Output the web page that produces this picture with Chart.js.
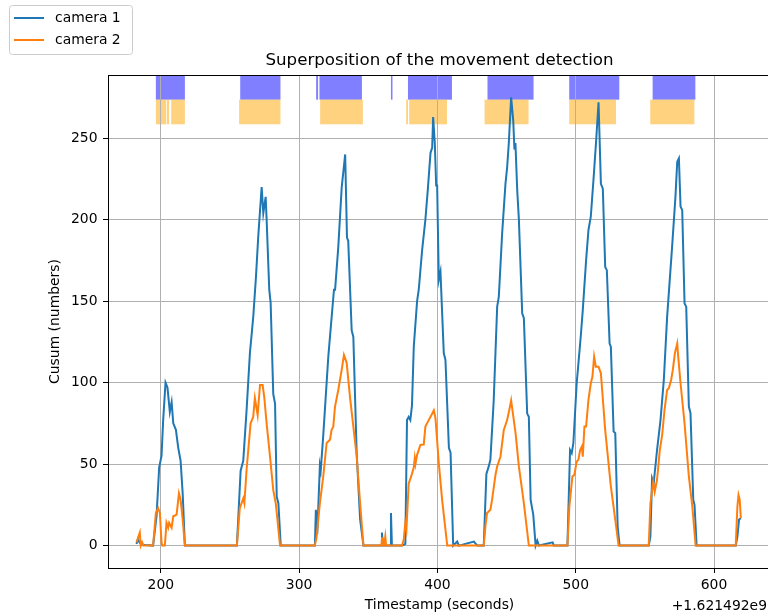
<!DOCTYPE html>
<html>
<head>
<meta charset="utf-8">
<script src="https://cdn.jsdelivr.net/npm/chart.js@4.4.0/dist/chart.umd.min.js"></script>
<style>
  html, body { margin: 0; padding: 0; background: #fff; overflow: hidden; }
  #wrap { width: 771px; height: 616px; }
</style>
</head>
<body>
<div id="wrap"><canvas id="cusumChart" width="771" height="616"></canvas></div>
<script>
// timestamps are seconds minus 1.621492e9
const camera1Time = [182.4, 183.5, 184.5, 185.5, 187, 189, 194.4, 196.9, 198.8, 200.5, 201.7, 203.4, 204.8, 206.5, 207.8, 209, 210.9, 212.6, 214.3, 215.8, 217.4,
  255, 257.7, 259.6, 262, 264.4, 266.8, 268.8, 270.4, 272.9, 274.1, 275.8, 276.5, 278.4, 279.4, 281.3, 282.6, 283.8, 285, 286.7,
  311.4, 312.1, 313.1, 315, 315.6, 317.4, 321.1, 323.5, 325.2, 326, 328.3, 330.8, 333.3, 334.6, 335.5, 338, 339.2, 341.6, 344.1, 346.5,
  359.4, 359.9, 360.5, 365.8, 366.4, 367.1,
  374.4, 376.8, 378, 379.2, 380.4, 381.6, 382.9, 385.3, 386.5, 388.9, 391.3, 393, 395, 396.2, 396.9, 398.1, 399.1, 399.8, 401, 402.2, 404.6, 405.8, 408.3, 409.5, 411.4, 414.3, 415.5, 426.4, 428.8,
  433.5, 435.4, 437.1, 438.3, 440.7, 443.2, 444.4, 446.8, 449.2, 450.4, 451.6, 453.3, 454.8, 455.7, 456.4, 457.7, 458.9, 461.3, 462.5, 464.9, 466.1, 467.4, 469.3, 471, 472.2, 473.4, 483.3, 484.2,
  494, 495.9, 497.1, 498.3, 500.7, 503.6, 505.1, 507.5, 509.2, 510.9, 512.8, 514.8, 516.5, 518.2, 519.6, 521.3, 522.5, 524.5, 525.4, 527.4, 528.6, 530.3, 531.7,
  552.8, 554, 555.2, 556.4, 557.1, 558.8, 561.3, 563.7, 566.1, 567.3, 569.7, 572.1, 573.4, 574.6, 575.8, 577, 578.7, 579.9, 581.8, 583, 585, 585.9, 587.4,
  615.7, 616.9, 618.1, 619.4];
const camera1Count = [1, 4, 2, 1, 0.5, 0.3, 0, 18, 48, 55, 77, 100, 97, 82, 88, 75, 71, 60, 52, 32, 0,
  0, 46, 52, 83, 118, 140, 165, 189, 220, 204, 214, 200, 157, 149, 93, 87, 30, 26, 0,
  0, 22, 7, 49, 46, 67, 116, 140, 157, 157, 183, 220, 240, 189, 187, 132, 128, 57, 16, 0,
  0, 8, 0, 0, 20, 0,
  0, 1, 77, 79, 77, 86, 122, 150, 157, 181, 200, 218, 241, 244, 263, 247, 221, 221, 163, 168, 118, 114, 60, 57, 0, 2.5, 0, 2.5, 0,
  0, 44, 48.6, 52.6, 89, 146.6, 152.8, 191.6, 222, 232, 246.7, 275, 261, 243, 247, 218, 200, 142.5, 139.5, 81, 79, 28, 19, 0, 3, 0, 2, 0,
  0, 58.6, 56.7, 62.8, 99.6, 128, 144.5, 175, 193.6, 201.8, 224, 248.8, 272, 222, 219, 171, 169, 124, 122, 70, 69, 12, 0,
  0, 5.5, 41.3, 38.3, 44.4, 58.6, 77, 101.6, 140.5, 154.8, 183.4, 214, 235.5, 237.6, 208, 205.8, 148.6, 146.6, 85.3, 81.2, 28, 25, 0,
  0, 5.5, 16, 16.8];

const camera2Time = [182.4, 183.2, 184.8, 185.5, 186.5, 187.5, 194.4, 196.4, 198, 199.3, 200.5, 201, 202.9, 204.1, 205.3, 206, 207.8, 209, 211.4, 213.1, 214.3, 215.8, 217.4,
  255, 257.1, 259.6, 260.4, 262, 264.9, 266.8, 268, 270, 271.7, 273.6, 274.8, 276.5, 278.9, 281.3, 283.1, 286.2,
  311.4, 312.6, 315, 317.4, 319.9, 322.3, 323.5, 324.7, 325.9, 328.3, 330.8, 332.4, 334.4, 336.8, 339.2, 341.6, 344.1, 346.5,
  359.5, 360, 360.5, 361.5, 362.3, 362.9,
  374.4, 375.6, 376.8, 377.6, 379.2, 381.6, 382.9, 383.6, 384.1, 385.3, 387.7, 390.1, 391.3, 393.7, 395, 397.4, 398.6, 401, 403.4, 407.1,
  433.5, 434.7, 435.9, 438.3, 439.5, 442, 443.2, 445.6, 448, 450.4, 452.4, 453.3, 454.1, 456.5, 458.9, 462.5, 466.1,
  494, 495.4, 497.6, 499, 500.7, 501.9, 503.2, 504.4, 505.1, 506.3, 507.5, 509.2, 510.9, 512.1, 513.3, 514.5, 516.5, 518.2, 521.3, 525.4, 528.6, 531,
  552.8, 554, 556, 557.1, 558.8, 560.8, 562.5, 564.2, 566.1, 567.3, 569, 570.2, 571.7, 573.4, 574.1, 575.8, 578.7, 581.8, 584.3, 586.7,
  615.7, 616.9, 617.7, 618.6, 619.4];
const camera2Count = [2, 4, 8, 0, 2, 0, 0, 20, 23, 20, 2, 0, 0, 14, 11, 14, 11, 18, 19, 32, 28, 16, 0,
  0, 23, 29, 26, 46.5, 75, 79, 90.5, 80, 98.5, 98.5, 91, 75, 55, 34, 26, 0,
  0, 5, 26, 42, 63, 65, 71, 73, 85, 95.5, 108, 117, 112, 91, 73, 55, 26, 0,
  0, 5, 0, 0, 5.5, 0,
  0, 3.5, 14, 10, 38, 44, 48, 53.5, 50, 55.7, 61.8, 62, 73, 77, 79, 83, 78, 50.6, 28, 0,
  0, 11.8, 20, 22, 28, 43.5, 48.6, 54.7, 71, 77, 85, 89, 84, 69, 48.6, 26, 0,
  0, 24, 42.4, 43.4, 51.6, 52.6, 58.6, 60.7, 54.6, 73, 73, 89.4, 99.6, 103.7, 116, 109.8, 109.8, 105.7, 71, 36.3, 15.8, 0,
  0, 26, 39.3, 33, 40.4, 58.6, 67.8, 83.2, 95.5, 96.5, 101.6, 107.8, 118, 124, 116, 99.6, 75, 42.4, 24, 0,
  0, 24, 31, 28, 16.8];

// detection intervals (start, end) per camera
const camera1Spans = [[196.4, 217.4], [257.4, 286.5], [312.3, 313.7], [314.7, 345.4], [366.4, 367.5], [378.7, 410.5], [436.2, 469.5], [495.3, 531.5], [555.6, 586.5]];
const camera2Spans = [[196.4, 203.8], [204.3, 206], [207.5, 217.4], [256.6, 286.5], [315.2, 346.1], [377.4, 378.7], [379.6, 406.9], [434.1, 465.9], [495.3, 529.1], [553.9, 585.8]];

const xTicks = [200, 300, 400, 500, 600];
const yTicks = [0, 50, 100, 150, 200, 250];
const xLimits = [161.8, 641.2];
const yLimits = [-13.75, 288.75];

const FONT = "'DejaVu Sans', sans-serif";
const BLUE = '#1f77b4';
const ORANGE = '#ff7f0e';

function points(ts, vs) {
  return ts.map((t, i) => ({ x: t, y: vs[i] }));
}

const spansPlugin = {
  id: 'spans',
  beforeDraw(chart) {
    const { ctx, chartArea: a, scales: { x } } = chart;
    const h = a.bottom - a.top;
    ctx.save();
    ctx.beginPath();
    ctx.rect(a.left, a.top, a.right - a.left, h);
    ctx.clip();
    const band = (spans, color, f0, f1) => {
      ctx.fillStyle = color;
      spans.forEach(([s, e]) => {
        const x0 = x.getPixelForValue(s);
        const x1 = x.getPixelForValue(e);
        ctx.fillRect(x0, a.bottom - f1 * h, x1 - x0, (f1 - f0) * h);
      });
    };
    band(camera1Spans, 'rgba(0,0,255,0.5)', 0.95, 1);
    band(camera2Spans, 'rgba(255,165,0,0.5)', 0.9, 0.95);
    ctx.restore();
  }
};

const decorPlugin = {
  id: 'decor',
  afterDraw(chart) {
    const { ctx, chartArea: a } = chart;
    ctx.save();
    // top spine
    ctx.strokeStyle = '#000';
    ctx.lineWidth = 1;
    ctx.beginPath();
    ctx.moveTo(a.left, a.top + 0.5);
    ctx.lineTo(a.right, a.top + 0.5);
    ctx.stroke();

    // title
    ctx.fillStyle = '#000';
    ctx.font = '16.67px ' + FONT;
    ctx.textAlign = 'center';
    ctx.textBaseline = 'alphabetic';
    ctx.fillText('Superposition of the movement detection', (a.left + a.right) / 2, 65);

    // offset text
    ctx.font = '13.9px ' + FONT;
    ctx.textAlign = 'right';
    ctx.fillText('+1.621492e9', 767, 610);

    // legend
    ctx.beginPath();
    ctx.roundRect(9.5, 5.5, 123, 49, 3);
    ctx.fillStyle = 'rgba(255,255,255,0.8)';
    ctx.fill();
    ctx.strokeStyle = '#cccccc';
    ctx.stroke();
    const entries = [['camera 1', BLUE, 18], ['camera 2', ORANGE, 40]];
    entries.forEach(([label, color, y]) => {
      ctx.strokeStyle = color;
      ctx.lineWidth = 2;
      ctx.beginPath();
      ctx.moveTo(14, y);
      ctx.lineTo(44, y);
      ctx.stroke();
      ctx.fillStyle = '#000';
      ctx.textAlign = 'left';
      ctx.textBaseline = 'middle';
      ctx.fillText(label, 55, y + 0.5);
    });
    ctx.restore();
  }
};

const ctx = document.getElementById('cusumChart');
new Chart(ctx, {
  type: 'line',
  data: {
    datasets: [
      {
        label: 'camera 1',
        data: points(camera1Time, camera1Count),
        borderColor: BLUE,
        borderWidth: 2,
        pointRadius: 0,
        tension: 0,
        order: 2
      },
      {
        label: 'camera 2',
        data: points(camera2Time, camera2Count),
        borderColor: ORANGE,
        borderWidth: 2,
        pointRadius: 0,
        tension: 0,
        order: 1
      }
    ]
  },
  options: {
    responsive: false,
    animation: false,
    devicePixelRatio: 1,
    layout: { padding: { top: 75, right: 0, bottom: 0, left: 0 } },
    plugins: {
      legend: { display: false },
      tooltip: { enabled: false }
    },
    scales: {
      x: {
        type: 'linear',
        min: xLimits[0],
        max: xLimits[1],
        afterBuildTicks: (s) => { s.ticks = xTicks.map(v => ({ value: v })); },
        afterFit: (s) => { s.height = 48; },
        grid: { color: '#b0b0b0', lineWidth: 1, tickColor: '#000', tickLength: 5 },
        border: { color: '#000', width: 1 },
        ticks: { color: '#000', font: { family: FONT, size: 13.9 }, padding: 4, maxRotation: 0 },
        title: {
          display: true,
          text: 'Timestamp (seconds)',
          color: '#000',
          font: { family: FONT, size: 13.9 },
          padding: { top: 0, bottom: 2.6 }
        }
      },
      y: {
        min: yLimits[0],
        max: yLimits[1],
        afterBuildTicks: (s) => { s.ticks = yTicks.map(v => ({ value: v })); },
        afterFit: (s) => { s.width = 108; },
        grid: { color: '#b0b0b0', lineWidth: 1, tickColor: '#000', tickLength: 5 },
        border: { color: '#000', width: 1 },
        ticks: { color: '#000', font: { family: FONT, size: 13.9 }, padding: 5.5 },
        title: {
          display: true,
          text: 'Cusum (numbers)',
          color: '#000',
          font: { family: FONT, size: 13.9 },
          padding: { top: 46.6, bottom: 0 }
        }
      }
    }
  },
  plugins: [spansPlugin, decorPlugin]
});
</script>
</body>
</html>
